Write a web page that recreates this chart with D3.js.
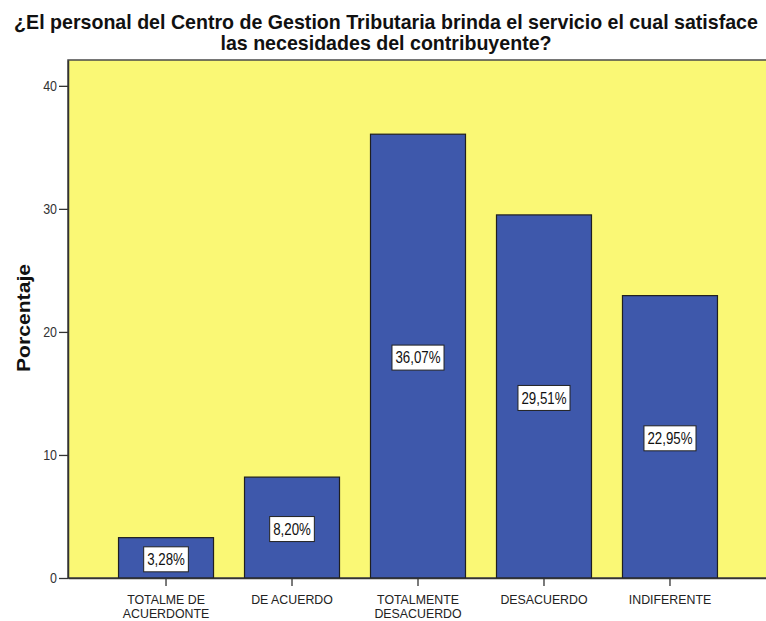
<!DOCTYPE html>
<html>
<head>
<meta charset="utf-8">
<script src="https://cdn.jsdelivr.net/npm/d3@7"></script>
<style>
  body { margin: 0; background: #fff; }
  text { font-family: Arial, "Liberation Sans", sans-serif; }
</style>
</head>
<body>
<div id="wrapper"></div>
<script>
// data
const categories = [
  "TOTALME DE|ACUERDONTE",
  "DE ACUERDO",
  "TOTALMENTE|DESACUERDO",
  "DESACUERDO",
  "INDIFERENTE"
];
const percentages = [3.28, 8.20, 36.07, 29.51, 22.95];
const yTicks = [0, 10, 20, 30, 40];
const titleLines = [
  "¿El personal del Centro de Gestion Tributaria brinda el servicio el cual satisface",
  "las necesidades del contribuyente?"
];
const yLabel = "Porcentaje";

const data = categories.map((c, i) => ({ category: c, value: percentages[i] }));

// dimensions
const width = 766;
const height = 621;
const plot = { left: 68, right: 768, top: 60, bottom: 578 };
const squeeze = 0.83; // the original text is set in a condensed face

const svg = d3.select("#wrapper")
  .append("svg")
    .attr("width", width)
    .attr("height", height);

// squeeze a text horizontally to mimic the narrow font
function condense(sel, factor = squeeze) {
  sel.each(function() {
    const w = this.getComputedTextLength();
    d3.select(this)
      .attr("textLength", w * factor)
      .attr("lengthAdjust", "spacingAndGlyphs");
  });
}

// scales
const xScale = d3.scaleBand()
    .domain(categories)
    .range([plot.left, plot.right])
    .paddingInner(0.246)
    .paddingOuter(0.401);

const yScale = d3.scaleLinear()
    .domain([0, 42.1])
    .range([plot.bottom, plot.top]);

// plot background
svg.append("rect")
    .attr("x", plot.left)
    .attr("y", plot.top)
    .attr("width", plot.right - plot.left)
    .attr("height", plot.bottom - plot.top)
    .attr("fill", "#faf875")
    .attr("stroke", "#4a4a4a")
    .attr("stroke-width", 1.5);

// bars
svg.append("g")
  .selectAll("rect")
  .data(data)
  .join("rect")
    .attr("x", d => xScale(d.category))
    .attr("y", d => yScale(d.value))
    .attr("width", xScale.bandwidth())
    .attr("height", d => yScale(0) - yScale(d.value))
    .attr("fill", "#3e58ab")
    .attr("stroke", "#1f1f1f")
    .attr("stroke-width", 1.2);

// value labels
const fmt = v => v.toFixed(2).replace(".", ",") + "%";
const labels = svg.append("g")
  .selectAll("g")
  .data(data)
  .join("g")
    .attr("transform", d =>
      `translate(${xScale(d.category) + xScale.bandwidth() / 2},${yScale(d.value / 2) + 1.5})`);

labels.append("text")
    .attr("text-anchor", "middle")
    .attr("dy", "0.36em")
    .attr("font-size", 16)
    .attr("fill", "#111")
    .text(d => fmt(d.value))
    .call(condense)
    .each(function() {
      const w = +this.getAttribute("textLength");
      d3.select(this.parentNode).insert("rect", "text")
        .attr("x", -w / 2 - 3.5)
        .attr("y", -12.5)
        .attr("width", w + 7)
        .attr("height", 25)
        .attr("fill", "#fff")
        .attr("stroke", "#222")
        .attr("stroke-width", 1);
    });

// y axis
const yAxis = svg.append("g")
    .attr("transform", `translate(${plot.left},0)`)
    .call(d3.axisLeft(yScale).tickValues(yTicks).tickSize(9).tickSizeOuter(0).tickPadding(2));
yAxis.select(".domain").attr("stroke", "#333").attr("stroke-width", 1.5);
yAxis.selectAll(".tick line").attr("stroke", "#333").attr("stroke-width", 1.3);
yAxis.selectAll(".tick text")
    .attr("font-size", 15)
    .attr("fill", "#333")
    .attr("font-family", "Arial, 'Liberation Sans', sans-serif")
    .call(condense);

// x axis
const xAxis = svg.append("g")
    .attr("transform", `translate(0,${plot.bottom})`)
    .call(d3.axisBottom(xScale).tickSize(8).tickSizeOuter(0).tickFormat(""));
xAxis.select(".domain").attr("stroke", "#333").attr("stroke-width", 1.5);
xAxis.selectAll(".tick line").attr("stroke", "#333").attr("stroke-width", 1.3);

xAxis.selectAll(".tick")
  .selectAll("text.cat")
  .data(d => d.split("|"))
  .join("text")
    .attr("class", "cat")
    .attr("text-anchor", "middle")
    .attr("x", 0)
    .attr("y", (d, i) => 25.5 + i * 14.5)
    .attr("font-size", 13)
    .attr("font-family", "Arial, 'Liberation Sans', sans-serif")
    .attr("fill", "#222")
    .text(d => d)
    .call(condense, 0.95);

// y label
svg.append("text")
    .attr("transform", "translate(30,318) rotate(-90)")
    .attr("text-anchor", "middle")
    .attr("font-size", 19)
    .attr("font-weight", "bold")
    .attr("fill", "#111")
    .attr("textLength", 108)
    .attr("lengthAdjust", "spacingAndGlyphs")
    .text(yLabel);

// title: squeezed with a transform so its box matches what is drawn
const titles = svg.append("g")
  .selectAll("text")
  .data(titleLines)
  .join("text")
    .attr("text-anchor", "middle")
    .attr("font-size", 20)
    .attr("font-weight", "bold")
    .attr("fill", "#111")
    .text(d => d);

const firstWidth = titles.nodes()[0].getComputedTextLength();
const titleFactor = 744 / firstWidth;
titles.attr("transform", (d, i) =>
  `translate(${width / 2 + 3},${29 + i * 21}) scale(${titleFactor},1)`);
</script>
</body>
</html>
